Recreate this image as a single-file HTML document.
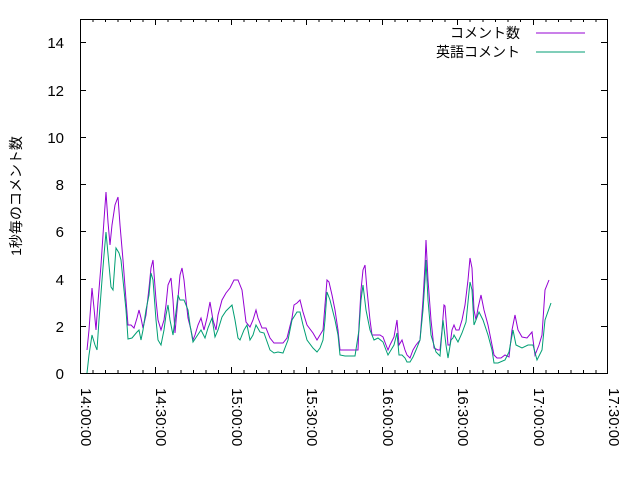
<!DOCTYPE html>
<html><head><meta charset="utf-8"><style>
body{margin:0;background:#fff}
svg text{font-family:"Liberation Sans","Noto Sans CJK JP",sans-serif;font-size:15px;fill:#000}
svg text.lg{font-size:14px}
</style></head><body>
<svg width="640" height="480" xmlns="http://www.w3.org/2000/svg">
<rect x="0" y="0" width="640" height="480" fill="#fff"/>
<g stroke="#000" stroke-width="1" fill="none">
<rect x="80.5" y="19.5" width="527" height="354"/>
<path d="M80 326.5h6M80 279.5h6M80 231.5h6M80 184.5h6M80 137.5h6M80 90.5h6M80 42.5h6M607 326.5h-6M607 279.5h-6M607 231.5h-6M607 184.5h-6M607 137.5h-6M607 90.5h-6M607 42.5h-6"/>
<path d="M155.5 373v-6M231.5 373v-6M306.5 373v-6M382.5 373v-6M457.5 373v-6M533.5 373v-6M155.5 19v6M231.5 19v6M306.5 19v6M382.5 19v6M457.5 19v6M533.5 19v6"/>
<path d="M93 373v-3M105.5 373v-3M118 373v-3M130.5 373v-3M143 373v-3M168 373v-3M181 373v-3M193.5 373v-3M206 373v-3M218.5 373v-3M244 373v-3M256.5 373v-3M269 373v-3M281.5 373v-3M294 373v-3M319 373v-3M332 373v-3M344.5 373v-3M357 373v-3M369.5 373v-3M395 373v-3M407.5 373v-3M420 373v-3M432.5 373v-3M445 373v-3M470 373v-3M483 373v-3M495.5 373v-3M508 373v-3M520.5 373v-3M546 373v-3M558.5 373v-3M571 373v-3M583.5 373v-3M596 373v-3"/>
<path d="M93 19v3M105.5 19v3M118 19v3M130.5 19v3M143 19v3M168 19v3M181 19v3M193.5 19v3M206 19v3M218.5 19v3M244 19v3M256.5 19v3M269 19v3M281.5 19v3M294 19v3M319 19v3M332 19v3M344.5 19v3M357 19v3M369.5 19v3M395 19v3M407.5 19v3M420 19v3M432.5 19v3M445 19v3M470 19v3M483 19v3M495.5 19v3M508 19v3M520.5 19v3M546 19v3M558.5 19v3M571 19v3M583.5 19v3M596 19v3"/>
</g>
<g text-anchor="end">
<text x="64" y="379">0</text><text x="64" y="332">2</text><text x="64" y="285">4</text><text x="64" y="237">6</text><text x="64" y="190">8</text><text x="64" y="143">10</text><text x="64" y="96">12</text><text x="64" y="48">14</text>
</g>
<g>
<text transform="translate(81,388) rotate(90)">14:00:00</text>
<text transform="translate(156,388) rotate(90)">14:30:00</text>
<text transform="translate(232,388) rotate(90)">15:00:00</text>
<text transform="translate(307,388) rotate(90)">15:30:00</text>
<text transform="translate(383,388) rotate(90)">16:00:00</text>
<text transform="translate(458,388) rotate(90)">16:30:00</text>
<text transform="translate(534,388) rotate(90)">17:00:00</text>
<text transform="translate(609,388) rotate(90)">17:30:00</text>
</g>
<text class="lg" transform="translate(21,196) rotate(-90)" text-anchor="middle">1秒毎のコメント数</text>
<text class="lg" x="520" y="38" text-anchor="end">コメント数</text>
<text class="lg" x="520" y="57" text-anchor="end">英語コメント</text>
<path d="M536 33h49" stroke="#9400d3"/>
<path d="M536 52h49" stroke="#009e73"/>
<polyline fill="none" stroke="#9400d3" stroke-width="1" points="87,350 89,330 92,288 94,308 96,330 98,302 101,265 104,220 106,192 108,222 110,245 112,225 115,205 118,197 120,225 123,260 126,300 128,325 131,325 134,328 137,318 139,310 141,318 143,328 146,315 149,288 151,268 153,260 156,300 158,320 161,330 164,320 166,305 168,285 171,278 173,300 175,333 177,310 180,275 182,268 184,280 186,300 188,318 191,330 193,340 195,335 198,325 201,318 204,330 207,318 210,302 213,320 216,330 218,315 222,300 226,293 230,288 234,280 238,280 242,290 246,322 250,327 253,320 256,310 258,318 262,328 266,328 270,338 274,343 278,343 283,343 287,338 292,318 294,305 297,303 300,300 303,312 307,325 313,333 317,340 320,335 323,330 325,305 327,280 329,282 332,295 335,310 338,330 340,350 345,350 355,350 358,350 359,325 361,290 363,270 365,265 367,290 370,320 372,335 376,335 380,335 383,337 386,345 388,350 390,345 394,337 397,320 399,345 402,340 405,350 407,355 410,358 413,350 416,345 420,340 423,300 425,265 426,240 428,280 431,320 434,348 438,350 440,350 442,330 444,305 445,306 448,345 450,345 452,330 454,325 456,330 459,330 462,320 465,305 468,280 470,258 472,268 474,310 476,320 478,308 481,295 484,310 488,325 492,345 494,355 497,358 501,358 505,355 509,357 512,330 515,315 518,330 522,337 527,338 532,332 535,355 539,345 542,335 545,290 549,280"/>
<polyline fill="none" stroke="#009e73" stroke-width="1" points="87,373 89,355 92,335 95,345 97,350 99,320 102,280 104,255 106,232 109,265 111,287 113,290 116,248 119,253 121,260 123,280 126,310 128,339 132,338 137,332 139,330 141,340 143,330 146,310 149,295 151,273 153,280 156,320 158,340 161,345 164,330 166,315 168,305 170,320 173,335 175,320 178,295 180,300 184,300 188,310 190,325 193,342 197,336 201,330 205,338 208,328 212,318 215,337 218,330 222,317 226,311 232,305 235,320 238,338 240,340 244,330 247,325 250,340 253,335 256,325 260,332 264,333 270,350 274,353 278,352 283,353 288,340 292,320 297,312 300,312 303,325 307,340 313,348 317,352 320,348 323,340 325,320 327,292 330,300 335,320 338,335 340,355 345,356 355,356 359,330 361,300 363,285 366,310 370,330 374,340 378,338 383,342 386,350 388,355 391,350 394,345 397,333 399,355 402,355 405,358 407,362 410,362 413,357 416,350 420,340 423,310 425,280 426,260 428,300 431,335 436,352 440,356 443,320 446,345 448,358 451,340 453,338 454,335 458,342 462,333 466,322 470,282 472,290 474,325 476,320 479,312 483,320 488,335 492,350 494,363 498,363 505,360 509,352 513,330 516,345 522,348 528,345 533,345 537,360 542,350 545,320 551,303"/>
</svg>
</body></html>
